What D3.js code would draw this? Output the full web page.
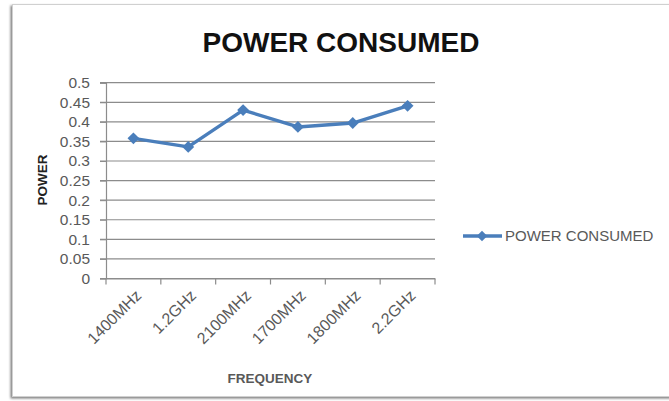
<!DOCTYPE html>
<html><head><meta charset="utf-8">
<script src="https://cdn.jsdelivr.net/npm/d3@7"></script>
<style>body{margin:0;background:#fff}svg{display:block}</style>
</head><body>
<script>
const categories = ["1400MHz","1.2GHz","2100MHz","1700MHz","1800MHz","2.2GHz"];
const powerValues = [0.358,0.336,0.430,0.387,0.397,0.441];
const yTicks = [0,0.05,0.1,0.15,0.2,0.25,0.3,0.35,0.4,0.45,0.5];
const yTickLabels = ["0","0.05","0.1","0.15","0.2","0.25","0.3","0.35","0.4","0.45","0.5"];
const seriesName = "POWER CONSUMED";

const W=669,H=401;
const svg=d3.select("body").append("svg").attr("width",W).attr("height",H);
const font="'Liberation Sans', Arial, sans-serif";

// frame with shadow
const defs=svg.append("defs");
const f=defs.append("filter").attr("id","sh").attr("x","-5%").attr("y","-5%").attr("width","110%").attr("height","110%");
f.append("feDropShadow").attr("dx",-1.5).attr("dy",1.5).attr("stdDeviation",1.2).attr("flood-color","#000").attr("flood-opacity",0.5);
svg.append("rect").attr("x",12.5).attr("y",4.5).attr("width",670).attr("height",392)
  .attr("fill","#fff").attr("stroke","#d0d0d0").attr("filter","url(#sh)");

const L=106,R=435,T=82.7,B=278.5;
const x=d3.scaleBand().domain(categories).range([L,R]).paddingInner(0).paddingOuter(0);
const y=d3.scaleLinear().domain([0,0.5]).range([B,T]);
const grid="#8c8c8c";

// gridlines
svg.append("g").selectAll("line").data(yTicks).join("line")
  .attr("x1",L-6).attr("x2",R).attr("y1",d=>y(d)).attr("y2",d=>y(d))
  .attr("stroke",grid).attr("stroke-width",1.2);

// y axis
const ya=svg.append("g").attr("transform",`translate(${L},0)`)
  .call(d3.axisLeft(y).tickValues(yTicks).tickFormat((d,i)=>yTickLabels[i]).tickSize(6).tickPadding(10));
ya.select(".domain").attr("stroke",grid).attr("stroke-width",1.2);
ya.selectAll(".tick line").attr("stroke",grid);
ya.selectAll("text").attr("font-family",font).attr("font-size",15.5).attr("fill","#595959");

// x axis
const xa=svg.append("g").attr("transform",`translate(0,${B})`)
  .call(d3.axisBottom(x).tickSize(0).tickFormat(""));
xa.select(".domain").attr("stroke",grid).attr("stroke-width",1.2);
const bounds=[L].concat(categories.map(c=>x(c)+x.bandwidth()));
svg.append("g").selectAll("line").data(bounds).join("line")
  .attr("x1",d=>d).attr("x2",d=>d).attr("y1",B).attr("y2",B+6).attr("stroke",grid).attr("stroke-width",1.2);
svg.append("g").selectAll("text").data(categories).join("text")
  .attr("transform",d=>`translate(${x(d)+x.bandwidth()/2+5},${B+14}) rotate(-45)`)
  .attr("text-anchor","end").attr("dy","0.35em")
  .attr("font-family",font).attr("font-size",16).attr("fill","#595959").text(d=>d);

// line
const cx=d=>x(d)+x.bandwidth()/2;
const blue="#4a7ebb";
svg.append("path").datum(categories)
  .attr("d",d3.line().x(cx).y((d,i)=>y(powerValues[i])))
  .attr("fill","none").attr("stroke",blue).attr("stroke-width",3.4).attr("stroke-linejoin","round");
svg.append("g").selectAll("path").data(categories).join("path")
  .attr("transform",(d,i)=>`translate(${cx(d)},${y(powerValues[i])}) rotate(45)`)
  .attr("d",d3.symbol(d3.symbolSquare,70)).attr("fill",blue);

// titles
svg.append("text").attr("x",341).attr("y",52).attr("text-anchor","middle")
  .attr("font-family",font).attr("font-weight","bold").attr("font-size",28).attr("fill","#111").text("POWER CONSUMED");
svg.append("text").attr("transform","translate(47,180) rotate(-90)").attr("text-anchor","middle")
  .attr("font-family",font).attr("font-weight","bold").attr("font-size",13.5).attr("fill","#222").text("POWER");
svg.append("text").attr("x",270).attr("y",383).attr("text-anchor","middle")
  .attr("font-family",font).attr("font-weight","bold").attr("font-size",13.5).attr("fill","#595959").text("FREQUENCY");

// legend
const ly=236;
svg.append("line").attr("x1",463).attr("x2",502).attr("y1",ly).attr("y2",ly).attr("stroke",blue).attr("stroke-width",3.4);
svg.append("path").attr("transform",`translate(482,${ly}) rotate(45)`).attr("d",d3.symbol(d3.symbolSquare,55)).attr("fill",blue);
svg.append("text").attr("x",505).attr("y",ly).attr("dy","0.36em")
  .attr("font-family",font).attr("font-size",15).attr("fill","#595959").text(seriesName);
</script>
</body></html>
